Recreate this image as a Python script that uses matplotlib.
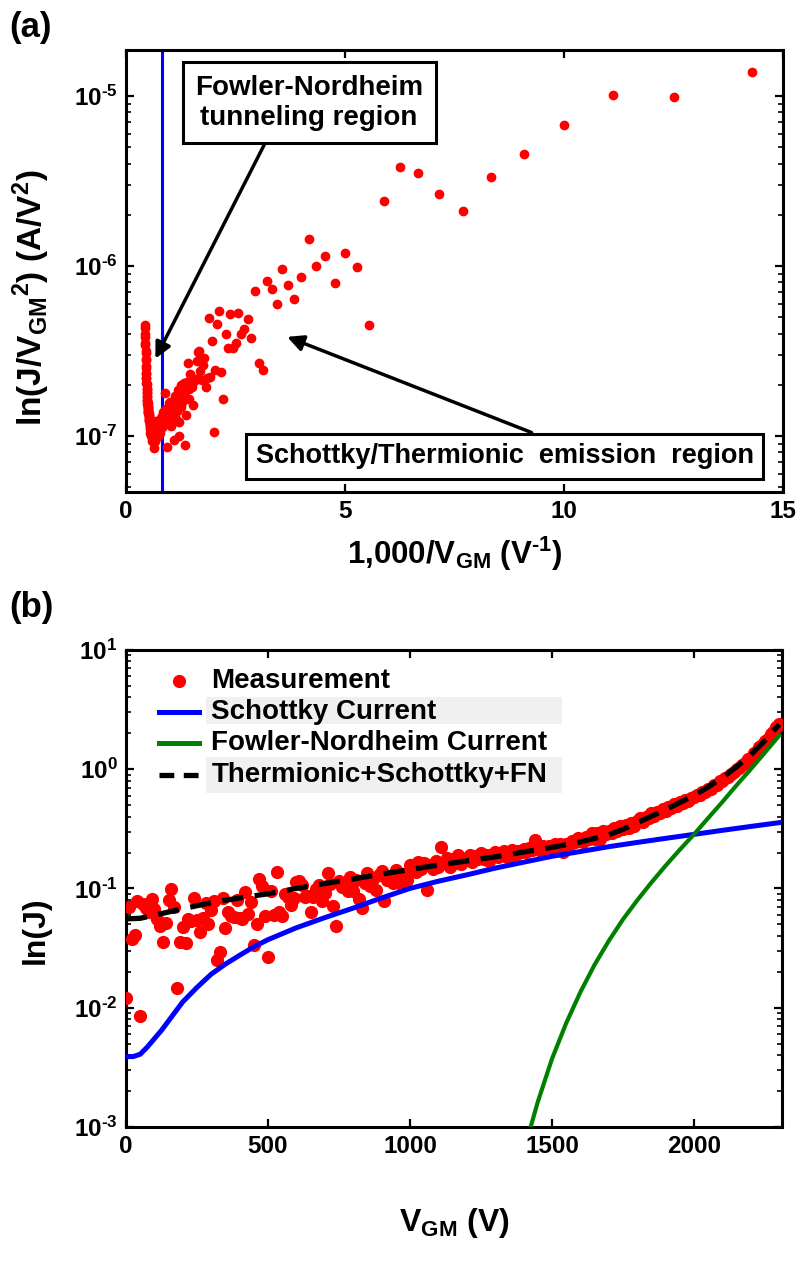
import numpy as np
import matplotlib
matplotlib.use("Agg")
import matplotlib.pyplot as plt
from matplotlib.ticker import FixedLocator, FuncFormatter, LogLocator, NullFormatter
from matplotlib.patches import Rectangle

plt.rcParams["font.family"] = ["Liberation Sans", "DejaVu Sans"]
plt.rcParams["font.weight"] = "bold"
plt.rcParams["mathtext.fontset"] = "custom"
plt.rcParams["mathtext.rm"] = "Liberation Sans:bold"
plt.rcParams["mathtext.it"] = "Liberation Sans:bold"
plt.rcParams["mathtext.bf"] = "Liberation Sans:bold"
plt.rcParams["mathtext.default"] = "bf"

# ---------------------------------------------------------------- data
# gate-to-mesh voltage sweep (V), 10 V steps
v_gm = np.arange(0, 2301, 10)

# measured current density J at each sweep voltage
j_meas = [
    # 0 - 60 V
    0.0121, 0.070, 0.038, 0.041, 0.0785, 0.0085, 0.074,
    # 70 - 340 V
    0.068, 0.0632, 0.0818, 0.0673, 0.0554, 0.0483, 0.0357, 0.0518, 0.0797, 0.0983,
    0.0697, 0.0145, 0.0354, 0.0475, 0.035, 0.0557, 0.053, 0.0835, 0.054, 0.043,
    0.0564, 0.0756, 0.0502, 0.0662, 0.0788, 0.0251, 0.0294, 0.0828,
    # 350 - 530 V
    0.0463, 0.063, 0.0586, 0.0578, 0.0806, 0.056, 0.0556, 0.0926, 0.0612, 0.0769,
    0.0334, 0.0501, 0.120, 0.105, 0.0586, 0.0265, 0.0944, 0.060, 0.138,
    # 540 - 1000 V
    0.064, 0.059, 0.090, 0.0855, 0.072, 0.0835, 0.113, 0.116, 0.106, 0.0855,
    0.086, 0.064, 0.084, 0.098, 0.107, 0.079, 0.092, 0.135, 0.108, 0.071,
    0.0485, 0.115, 0.102, 0.108, 0.096, 0.125, 0.095, 0.118, 0.0815, 0.069,
    0.112, 0.134, 0.104, 0.121, 0.097, 0.130, 0.139, 0.078, 0.118, 0.126,
    0.112, 0.142, 0.121, 0.108, 0.133, 0.118, 0.158,
    # 1010 - 1500 V
    0.152, 0.137, 0.166, 0.146, 0.162, 0.097, 0.158, 0.146, 0.171, 0.152,
    0.221, 0.162, 0.179, 0.152, 0.176, 0.164, 0.190, 0.160, 0.178, 0.175,
    0.192, 0.167, 0.188, 0.177, 0.199, 0.176, 0.192, 0.171, 0.191, 0.202,
    0.182, 0.198, 0.208, 0.185, 0.201, 0.211, 0.188, 0.208, 0.204, 0.216,
    0.202, 0.218, 0.211, 0.255, 0.219, 0.207, 0.228, 0.217, 0.228, 0.217,
    # 1510 - 2000 V
    0.234, 0.216, 0.234, 0.202, 0.234, 0.227, 0.250, 0.243, 0.265, 0.252,
    0.246, 0.271, 0.259, 0.289, 0.261, 0.289, 0.261, 0.306, 0.285, 0.302,
    0.294, 0.323, 0.301, 0.333, 0.318, 0.338, 0.320, 0.352, 0.332, 0.366,
    0.386, 0.362, 0.401, 0.391, 0.425, 0.405, 0.441, 0.431, 0.468, 0.448,
    0.484, 0.469, 0.506, 0.490, 0.529, 0.524, 0.555, 0.542, 0.575, 0.579,
    # 2010 - 2300 V
    0.606, 0.606, 0.647, 0.641, 0.684, 0.677, 0.730, 0.739, 0.790, 0.791,
    0.844, 0.852, 0.918, 0.939, 1.008, 1.023, 1.093, 1.116, 1.210, 1.252,
    1.358, 1.406, 1.529, 1.594, 1.733, 1.804, 1.980, 2.058, 2.252, 2.371,
]

# Schottky emission model
v_schottky = [0, 25, 50, 75, 100, 125, 150, 175, 200, 250, 300, 350, 400, 450, 500,
              600, 700, 800, 900, 1000, 1100, 1200, 1300, 1400, 1500, 1600, 1700,
              1800, 1900, 2000, 2100, 2200, 2300]
j_schottky = [0.00389, 0.00389, 0.00407, 0.00468, 0.00550, 0.00646, 0.00776, 0.00933,
              0.0112, 0.0148, 0.0191, 0.0232, 0.0275, 0.0324, 0.0372, 0.0468, 0.0569,
              0.0684, 0.0832, 0.100, 0.115, 0.130, 0.148, 0.166, 0.186, 0.204, 0.224,
              0.243, 0.263, 0.284, 0.307, 0.331, 0.356]

# Fowler-Nordheim tunnelling model
v_fn = [1420, 1425, 1450, 1500, 1550, 1600, 1650, 1700, 1750, 1800, 1850, 1900,
        1950, 2000, 2050, 2100, 2150, 2200, 2250, 2300]
j_fn = [0.00091, 0.00100, 0.00162, 0.00372, 0.00741, 0.0135, 0.0229, 0.0363,
        0.0550, 0.0794, 0.112, 0.155, 0.211, 0.284, 0.389, 0.531, 0.733, 1.00,
        1.38, 1.91]

# combined thermionic + Schottky + FN model
v_total = [0, 50, 100, 200, 300, 400, 500, 600, 700, 800, 900, 1000, 1100, 1200,
           1300, 1400, 1500, 1600, 1700, 1750, 1800, 1850, 1900, 1950, 2000, 2050,
           2100, 2150, 2200, 2250, 2300]
j_total = [0.0556, 0.0562, 0.0596, 0.0676, 0.0759, 0.0832, 0.0902, 0.100, 0.110,
           0.120, 0.132, 0.144, 0.157, 0.170, 0.184, 0.202, 0.221, 0.245, 0.282,
           0.313, 0.355, 0.403, 0.457, 0.525, 0.603, 0.708, 0.851, 1.047, 1.318,
           1.738, 2.371]

fn_boundary = 0.82   # 1000/V_GM where tunnelling takes over

legend_labels = ["Measurement", "Schottky Current", "Fowler-Nordheim Current",
                 "Thermionic+Schottky+FN"]

# ---------------------------------------------------------------- figure
RED, BLUE, GREEN = "#ff0000", "#0000ff", "#008000"
TICK_FS = 17.5

fig = plt.figure(figsize=(7.99, 12.61), dpi=100)
fig.patch.set_facecolor("white")


def log_label(v, pos):
    e = int(round(np.log10(v)))
    if e < 0:
        return r"$\mathbf{10^{\text{-}%d}}$" % (-e)
    return r"$\mathbf{10^{%d}}$" % e


def style_axes(ax, decades):
    ax.set_yscale("log")
    ax.yaxis.set_major_locator(FixedLocator(decades))
    ax.yaxis.set_major_formatter(FuncFormatter(log_label))
    ax.yaxis.set_minor_locator(LogLocator(base=10, subs=np.arange(2, 10)))
    ax.yaxis.set_minor_formatter(NullFormatter())
    ax.tick_params(which="both", direction="in", top=True, right=True)
    ax.tick_params(which="major", length=6, width=1.6, labelsize=TICK_FS, pad=6)
    ax.tick_params(which="minor", length=3.5, width=1.2)
    for sp in ax.spines.values():
        sp.set_linewidth(2.2)


# ---- panel (a): J / V^2 against 1000 / V
ax1 = fig.add_axes([0.1577, 0.6098, 0.8223, 0.3505])
v_arr = v_gm[1:].astype(float)
j_arr = np.asarray(j_meas[1:])
ax1.plot(1000.0 / v_arr, j_arr / v_arr**2, "o", color=RED, mec=RED, ms=6, ls="none",
         zorder=3)
ax1.axvline(fn_boundary, color=BLUE, lw=2.2, zorder=2)
style_axes(ax1, [1e-7, 1e-6, 1e-5])
ax1.set_xlim(0, 15)
ax1.set_ylim(10**-7.33, 10**-4.73)
ax1.set_xticks([0, 5, 10, 15])
ax1.set_xlabel(r"1,000/V$_{\mathbf{GM}}$ (V$^{\text{-}\mathbf{1}}$)", fontsize=22.5,
               fontweight="bold", labelpad=8)
ax1.set_ylabel(r"ln(J/V$_{\mathbf{GM}}$$^{\mathbf{2}}$) (A/V$^{\mathbf{2}}$)",
               fontsize=24, fontweight="bold")
ax1.yaxis.set_label_coords(-0.112, 0.44)

box_kw = dict(boxstyle="square,pad=0.45", facecolor="white", edgecolor="black", lw=2.2)
arrow_kw = dict(arrowstyle="-|>", color="black", lw=2.5, mutation_scale=24,
                shrinkA=0, shrinkB=0)

ax1.text(4.18, 10**-5.04, "Fowler-Nordheim\ntunneling region", ha="center",
         va="center", fontsize=20, fontweight="bold", linespacing=1.2, bbox=box_kw,
         zorder=6)
ax1.annotate("", xy=(0.67, 10**-6.545), xytext=(3.15, 10**-5.29),
             arrowprops=arrow_kw, zorder=5)

ax1.text(8.65, 10**-7.12, "Schottky/Thermionic  emission  region", ha="center",
         va="center", fontsize=19.5, fontweight="bold",
         bbox=dict(boxstyle="square,pad=0.35", facecolor="white", edgecolor="black",
                   lw=2.2), zorder=6)
ax1.annotate("", xy=(3.68, 10**-6.417), xytext=(9.26, 10**-6.98),
             arrowprops=arrow_kw, zorder=5)

# ---- panel (b): J against V_GM
ax2 = fig.add_axes([0.1577, 0.1063, 0.821, 0.3783])
ax2.plot(v_gm, j_meas, "o", color=RED, mec=RED, ms=8.5, ls="none", zorder=3)
ax2.plot(v_schottky, j_schottky, "-", color=BLUE, lw=3.6, zorder=4)
ax2.plot(v_fn, j_fn, "-", color=GREEN, lw=3.0, zorder=4)
ax2.plot(v_total, j_total, "--", color="black", lw=3.8, dashes=(4, 2.2), zorder=5)
style_axes(ax2, [1e-3, 1e-2, 1e-1, 1e0, 1e1])
ax2.set_xlim(0, 2310)
ax2.set_ylim(1e-3, 1e1)
ax2.set_xticks([0, 500, 1000, 1500, 2000])
ax2.set_xlabel(r"V$_{\mathbf{GM}}$ (V)", fontsize=23, fontweight="bold", labelpad=34)
ax2.set_ylabel("ln(J)", fontsize=23, fontweight="bold")
ax2.yaxis.set_label_coords(-0.115, 0.413)

# legend drawn in axes fractions
tr = ax2.transAxes
rows = [0.935, 0.870, 0.805, 0.738]
ax2.add_patch(Rectangle((0.122, 0.845), 0.543, 0.056, transform=tr,
                        facecolor="#f0f0f0", edgecolor="none", zorder=1))
ax2.add_patch(Rectangle((0.122, 0.700), 0.543, 0.076, transform=tr,
                        facecolor="#f0f0f0", edgecolor="none", zorder=1))
ax2.plot([0.081], [rows[0]], "o", color=RED, mec=RED, ms=8.5, transform=tr)
ax2.plot([0.050, 0.111], [rows[1]] * 2, "-", color=BLUE, lw=3.6, transform=tr)
ax2.plot([0.050, 0.111], [rows[2]] * 2, "-", color=GREEN, lw=3.6, transform=tr)
ax2.plot([0.050, 0.111], [rows[3]] * 2, "--", color="black", lw=3.8,
         dashes=(2.8, 1.8), transform=tr)
for y, lab in zip(rows, legend_labels):
    ax2.text(0.130, y, lab, transform=tr, ha="left", va="center", fontsize=20,
             fontweight="bold", zorder=6)

fig.text(0.012, 0.978, "(a)", fontsize=25, fontweight="bold", ha="left", va="center")
fig.text(0.012, 0.5185, "(b)", fontsize=25, fontweight="bold", ha="left", va="center")

fig.savefig("out.png", dpi=100, facecolor="white")
